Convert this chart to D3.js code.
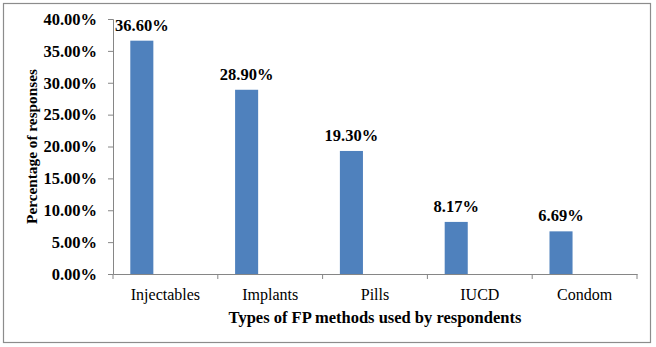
<!DOCTYPE html>
<html><head><meta charset="utf-8">
<script src="https://cdn.jsdelivr.net/npm/d3@7"></script>
<style>html,body{margin:0;padding:0;background:#fff;}svg{display:block;}</style>
</head><body>
<script>
const categories = ["Injectables", "Implants", "Pills", "IUCD", "Condom"];
const values = [36.60, 28.90, 19.30, 8.17, 6.69];
const yTicks = [0, 5, 10, 15, 20, 25, 30, 35, 40];
const xTitle = "Types of FP methods used by respondents";
const yTitle = "Percentage of responses";

const W = 656, H = 347;
const m = {left: 113, right: 19, top: 19, bottom: 73};
const svg = d3.select("body").append("svg").attr("width", W).attr("height", H);
const font = "'Liberation Serif','Times New Roman',serif";

svg.append("rect").attr("x", 3.5).attr("y", 3.5).attr("width", 647).attr("height", 339)
  .attr("fill", "#fff").attr("stroke", "#8c8c8c").attr("stroke-width", 1.2);

const x = d3.scaleBand().domain(categories).range([m.left, W - m.right]).padding(0);
const y = d3.scaleLinear().domain([0, 40]).range([H - m.bottom, m.top]);

const yAxis = svg.append("g").attr("transform", `translate(${m.left},0)`)
  .call(d3.axisLeft(y).tickValues(yTicks).tickSize(5).tickFormat(d => d.toFixed(2) + "%"));
yAxis.select(".domain").attr("stroke", "#868686");
yAxis.selectAll(".tick line").attr("stroke", "#868686");
yAxis.selectAll("text").attr("font-family", font).attr("font-size", 16.5).attr("font-weight", "bold")
  .attr("fill", "#000").attr("x", -16);

const xAxis = svg.append("g").attr("transform", `translate(0,${H - m.bottom})`)
  .call(d3.axisBottom(x).tickSize(0).tickSizeOuter(0));
xAxis.select(".domain").attr("stroke", "#868686");
xAxis.selectAll("text").attr("font-family", font).attr("font-size", 16).attr("fill", "#000").attr("dy", 0).attr("y", 26);
// category boundary ticks
const bounds = categories.map(c => x(c)).concat([x(categories[categories.length-1]) + x.bandwidth()]);
svg.append("g").selectAll("line").data(bounds).join("line")
  .attr("x1", d => d).attr("x2", d => d)
  .attr("y1", H - m.bottom).attr("y2", H - m.bottom + 5)
  .attr("stroke", "#868686");

const bw = x.bandwidth();
const barW = bw * 0.22, barOff = bw * 0.165;
svg.append("g").selectAll("rect").data(values).join("rect")
  .attr("x", (d, i) => x(categories[i]) + barOff)
  .attr("width", barW)
  .attr("y", d => y(d))
  .attr("height", d => y(0) - y(d))
  .attr("fill", "#4F81BD");

svg.append("g").selectAll("text").data(values).join("text")
  .attr("x", (d, i) => x(categories[i]) + barOff + barW / 2)
  .attr("y", d => y(d) - 10)
  .attr("text-anchor", "middle")
  .attr("font-family", font).attr("font-size", 16.5).attr("font-weight", "bold")
  .text(d => d.toFixed(2) + "%");

svg.append("text").attr("x", (m.left + W - m.right) / 2).attr("y", 323)
  .attr("text-anchor", "middle").attr("font-family", font).attr("font-size", 16.5).attr("font-weight", "bold")
  .text(xTitle);

svg.append("text").attr("transform", `translate(37,${(m.top + H - m.bottom) / 2}) rotate(-90)`)
  .attr("text-anchor", "middle").attr("font-family", font).attr("font-size", 15.3).attr("font-weight", "bold")
  .text(yTitle);
</script>
</body></html>
